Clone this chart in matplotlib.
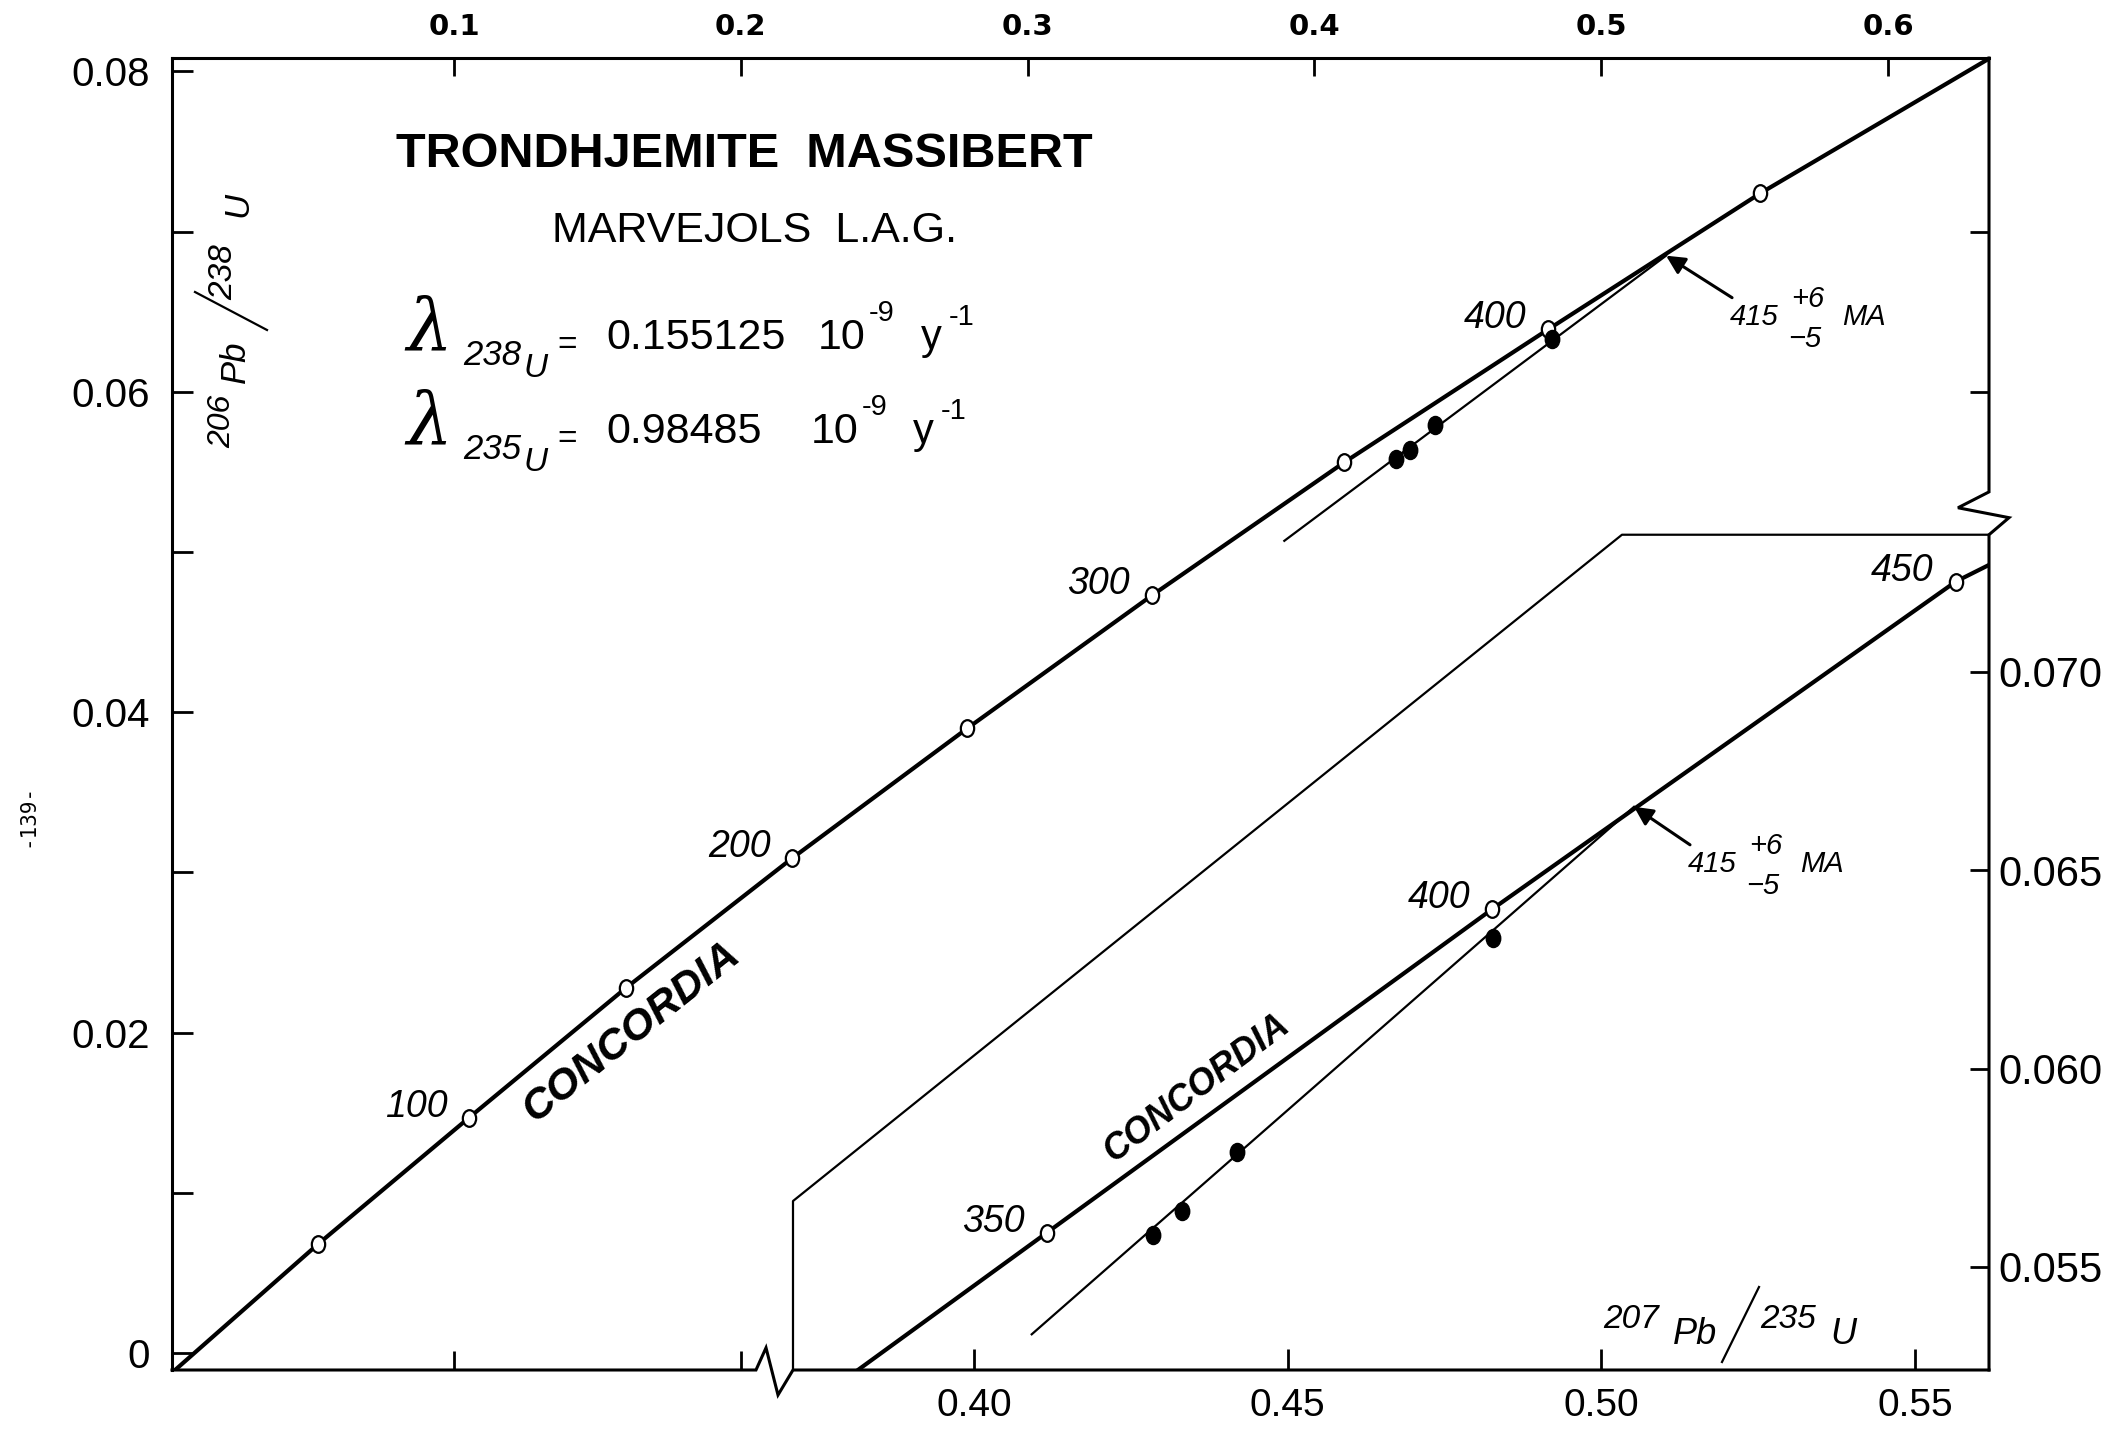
import matplotlib
matplotlib.use('Agg')
import matplotlib.pyplot as plt
from matplotlib.lines import Line2D
from matplotlib.markers import MarkerStyle
from matplotlib.transforms import Affine2D, offset_copy

W, H = 2120, 1429

# ---- data ----
# main diagram: 207Pb/235U (top axis) against 206Pb/238U (left axis)
conc_ages = [50, 100, 150, 200, 250, 300, 350, 400, 450]
conc_x = [0.0526, 0.1053, 0.1600, 0.2180, 0.2790, 0.3434, 0.4104, 0.4815, 0.5555]
conc_y = [0.0068, 0.0147, 0.0228, 0.0309, 0.0390, 0.0473, 0.0556, 0.0639, 0.0724]
conc_start = (0.0025, -0.0011)
conc_end = (0.6352, 0.0808)
main_labelled = [100, 200, 300, 400]

# enlarged part (bottom / right axes)
ins_ages = [350, 400, 450]
ins_x = [0.4116, 0.4826, 0.5565]
ins_y = [0.05586, 0.06402, 0.07228]
ins_start = (0.3815, 0.0524)
ins_end = (0.5618, 0.0727)

# zircon fractions (same four points in both parts)
samp_x = [0.4285, 0.4332, 0.4419, 0.4827]
samp_y = [0.0558, 0.0564, 0.0579, 0.0633]

# discordia lines
disc_main_x = [0.3895, 0.5226]
disc_main_y = [0.0507, 0.0685]
disc_ins_x = [0.4092, 0.5052]
disc_ins_y = [0.0533, 0.0666]

top_ticks = [0.1, 0.2, 0.3, 0.4, 0.5, 0.6]
top_labels = ['0.1', '0.2', '0.3', '0.4', '0.5', '0.6']
left_ticks = [0, 0.02, 0.04, 0.06, 0.08]
left_labels = ['0', '0.02', '0.04', '0.06', '0.08']
left_minor = [0.01, 0.03, 0.05, 0.07]
ins_xticks = [0.40, 0.45, 0.50, 0.55]
ins_xlabels = ['0.40', '0.45', '0.50', '0.55']
ins_yticks = [0.055, 0.060, 0.065, 0.070]
ins_ylabels = ['0.055', '0.060', '0.065', '0.070']

SANS = 'Liberation Sans'


def fx(px):
    return px / W


def fy(py):
    return 1 - py / H


fig = plt.figure(figsize=(W / 100, H / 100), dpi=100)
fig.patch.set_facecolor('white')
pos = [fx(172), fy(1370), (1989 - 172) / W, (1370 - 58) / H]
ax = fig.add_axes(pos)
ax2 = fig.add_axes(pos)
ax2.patch.set_visible(False)

# ---- main axes ----
ax.set_xlim(0.00167, 0.6352)
ax.set_ylim(-0.00106, 0.08084)
ax.xaxis.tick_top()
ax.set_xticks(top_ticks)
ax.set_xticklabels(top_labels, family='DejaVu Sans', fontsize=21, weight='bold')
ax.tick_params(axis='x', direction='in', length=13, width=2, pad=12)
ax.set_yticks(left_ticks)
ax.set_yticklabels(left_labels, family=SANS, fontsize=29)
ax.set_yticks(left_minor, minor=True)
ax.tick_params(axis='y', which='both', direction='in', length=15, width=2, pad=16)
ax.spines['bottom'].set_visible(False)
ax.spines['right'].set_visible(False)
for s in ['top', 'left']:
    ax.spines[s].set_linewidth(2.2)

sec_b = ax.secondary_xaxis('bottom')
sec_b.set_xticks([0.1, 0.2])
sec_b.set_xticklabels(['', ''])
sec_b.tick_params(direction='in', length=14, width=2)
sec_b.spines['bottom'].set_visible(False)

sec_r = ax.secondary_yaxis('right')
sec_r.set_yticks([0.06, 0.07])
sec_r.set_yticklabels(['', ''])
sec_r.tick_params(direction='in', length=14, width=2)
sec_r.spines['right'].set_visible(False)

# ---- enlarged part axes ----
ax2.set_xlim(0.27217, 0.56178)
ax2.set_ylim(0.0524, 0.08548)
for s in ax2.spines.values():
    s.set_visible(False)
ax2.set_xticks(ins_xticks)
ax2.set_xticklabels(ins_xlabels, family=SANS, fontsize=28)
ax2.tick_params(axis='x', direction='in', length=15, width=2, pad=13)
ax2.yaxis.tick_right()
ax2.set_yticks(ins_yticks)
ax2.set_yticklabels(ins_ylabels, family=SANS, fontsize=30)
ax2.tick_params(axis='y', direction='in', length=14, width=2, pad=7)

# frame edges with break marks
ax2.plot([0.27217, 0.36525, 0.36685, 0.36876, 0.37115, 0.56178],
         [0.0524, 0.0524, 0.05296, 0.05177, 0.0524, 0.0524],
         color='black', lw=2.2, clip_on=False, solid_joinstyle='miter')
ax2.plot([0.56178, 0.56178, 0.55684, 0.56497, 0.56178, 0.56178],
         [0.08548, 0.07454, 0.07414, 0.07389, 0.07346, 0.0524],
         color='black', lw=2.2, clip_on=False, solid_joinstyle='miter')
# outline of the enlarged part
ax2.plot([0.37115, 0.37115, 0.50328, 0.56178],
         [0.0524, 0.05666, 0.07346, 0.07346],
         color='black', lw=1.6, clip_on=False)

ell = MarkerStyle('o', transform=Affine2D().scale(0.8, 1.0))

# ---- main concordia ----
ax.plot([conc_start[0]] + conc_x + [conc_end[0]],
        [conc_start[1]] + conc_y + [conc_end[1]],
        color='black', lw=3, zorder=2)
ax.plot(conc_x, conc_y, ls='none', marker=ell, ms=12, mfc='white',
        mec='black', mew=1.6, zorder=3)
ax.plot(disc_main_x, disc_main_y, color='black', lw=1.6, zorder=2)
ax.plot(samp_x, samp_y, ls='none', marker=ell, ms=13, color='black', zorder=3)
for a, x, y in zip(conc_ages, conc_x, conc_y):
    if a in main_labelled:
        ax.annotate(str(a), (x, y), xytext=(-22, 11), textcoords='offset pixels',
                    ha='right', va='center', fontsize=27, style='italic', family=SANS)

# ---- enlarged concordia ----
ax2.plot([ins_start[0]] + ins_x + [ins_end[0]],
         [ins_start[1]] + ins_y + [ins_end[1]],
         color='black', lw=3, zorder=2)
ax2.plot(ins_x, ins_y, ls='none', marker=ell, ms=12, mfc='white',
         mec='black', mew=1.6, zorder=3)
ax2.plot(disc_ins_x, disc_ins_y, color='black', lw=1.6, zorder=2)
ax2.plot(samp_x, samp_y, ls='none', marker=ell, ms=13, color='black', zorder=3)
for a, x, y in zip(ins_ages, ins_x, ins_y):
    ax2.annotate(str(a), (x, y), xytext=(-22, 11), textcoords='offset pixels',
                 ha='right', va='center', fontsize=27, style='italic', family=SANS)


def age_note(axis, tip, tail):
    axis.annotate('', xy=tip, xytext=tail, textcoords='offset pixels',
                  arrowprops=dict(arrowstyle='-|>', color='black', lw=2.2,
                                  mutation_scale=28, shrinkA=0, shrinkB=0))
    parts = [('415', 22, 19), ('+6', 76, 1), ('\u22125', 73, 41), ('MA', 132, 19)]
    for txt, dx, dy in parts:
        tr = offset_copy(axis.transData, fig=fig, x=tail[0] + dx,
                         y=tail[1] - dy, units='dots')
        axis.text(tip[0], tip[1], txt, transform=tr, ha='center', va='center',
                  fontsize=21, style='italic', family=SANS)


age_note(ax, (disc_main_x[1], disc_main_y[1]), (66, -42))
age_note(ax2, (disc_ins_x[1], disc_ins_y[1]), (56, -38))

# CONCORDIA labels
fig.text(fx(632), fy(1032), 'CONCORDIA', rotation=38.5, rotation_mode='anchor',
         ha='center', va='center', fontsize=31, weight='bold', style='italic',
         family=SANS)
fig.text(fx(1197), fy(1088), 'CONCORDIA', rotation=37, rotation_mode='anchor',
         ha='center', va='center', fontsize=26, weight='bold', style='italic',
         family=SANS)

# ---- titles and constants ----
fig.text(fx(396), fy(167), 'TRONDHJEMITE  MASSIBERT', fontsize=35, weight='bold',
         family=SANS, ha='left', va='baseline')
fig.text(fx(552), fy(242), 'MARVEJOLS  L.A.G.', fontsize=31, family=SANS,
         ha='left', va='baseline')

# decay constants: (line offset, isotope, value, x of "10", x of "y")
consts = [(0, '238', '0.155125', 818, 921),
          (94, '235', '0.98485', 811, 913)]
for dy, iso, val, x10, xy in consts:
    fig.text(fx(406), fy(350 + dy), '\u03bb', fontsize=52, style='italic',
             family='DejaVu Serif', ha='left', va='baseline')
    fig.text(fx(463), fy(365 + dy), iso, fontsize=25, style='italic', family=SANS,
             ha='left', va='baseline')
    fig.text(fx(523), fy(377 + dy), 'U', fontsize=24, style='italic', family=SANS,
             ha='left', va='baseline')
    fig.text(fx(557), fy(354 + dy), '=', fontsize=24, family=SANS,
             ha='left', va='baseline')
    fig.text(fx(606), fy(349 + dy), val, fontsize=31, family=SANS,
             ha='left', va='baseline')
    fig.text(fx(x10), fy(349 + dy), '10', fontsize=31, family=SANS,
             ha='left', va='baseline')
    fig.text(fx(x10 + 51), fy(321 + dy), '-9', fontsize=21, family=SANS,
             ha='left', va='baseline')
    fig.text(fx(xy), fy(349 + dy), 'y', fontsize=30, family=SANS,
             ha='left', va='baseline')
    fig.text(fx(xy + 28), fy(325 + dy), '-1', fontsize=21, family=SANS,
             ha='left', va='baseline')

# y axis title 206Pb/238U (rotated pieces)
for txt, px, py, size in [('206', 222, 421, 23), ('Pb', 235, 362, 25),
                          ('238', 224, 272, 24), ('U', 238, 204, 25)]:
    fig.text(fx(px), fy(py), txt, rotation=90, fontsize=size, style='italic',
             family=SANS, ha='center', va='center')
fig.add_artist(Line2D([fx(267), fx(195)], [fy(330), fy(292)], color='black',
                      lw=1.6, transform=fig.transFigure))

# x axis title 207Pb/235U for the enlarged part
for txt, px, py, size in [('207', 1631, 1320, 24), ('Pb', 1695, 1335, 26),
                          ('235', 1788, 1320, 24), ('U', 1843, 1335, 26)]:
    fig.text(fx(px), fy(py), txt, fontsize=size, style='italic', family=SANS,
             ha='center', va='center')
fig.add_artist(Line2D([fx(1722), fx(1759)], [fy(1362), fy(1287)], color='black',
                      lw=1.6, transform=fig.transFigure))

# page number
fig.text(fx(27), fy(815), '-139-', rotation=90, fontsize=15,
         family='DejaVu Sans Mono', ha='center', va='center')

fig.savefig('out.png', dpi=100, facecolor='white')
